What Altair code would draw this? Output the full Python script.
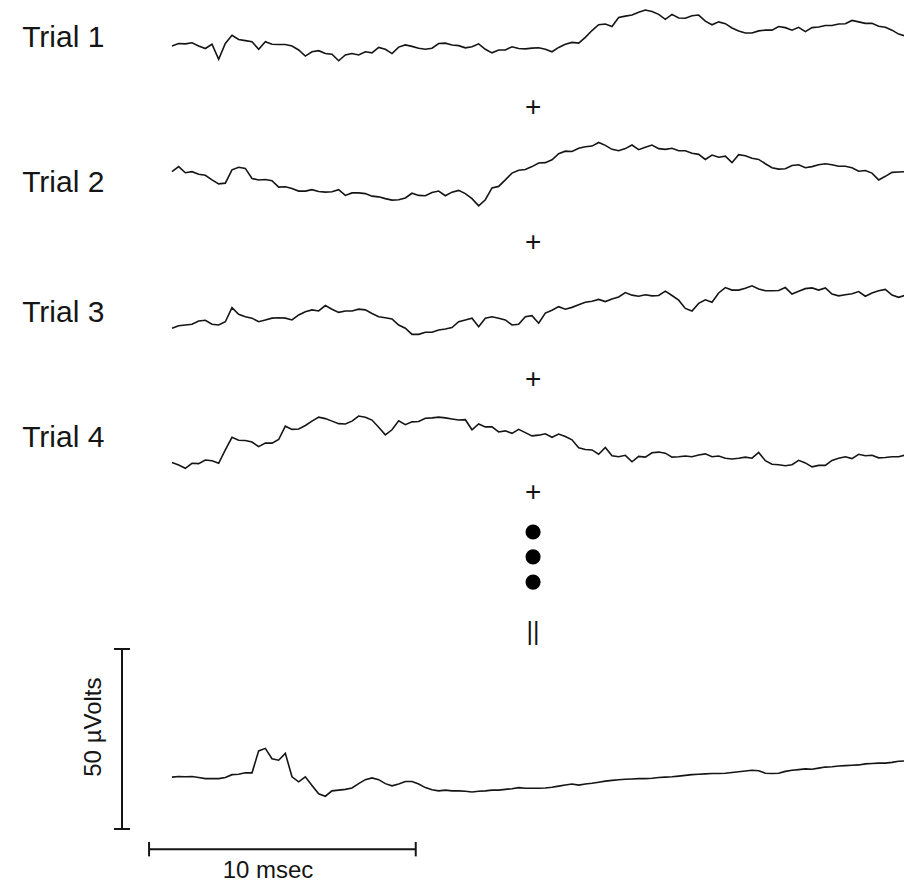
import altair as alt
import pandas as pd

# ---------------- data (µV relative to each trace's own baseline, one sample every 0.25 ms) -------------
STEP_MS = 0.25

trial_1 = [0.2, 0.9, 0.8, 1.1, 0.2, -0.5, 0.7, -3.5, 0.9, 3.2,
           2.0, 1.7, 1.4, -0.7, 1.4, 0.7, 0.6, 0.6, 0.2, -0.9,
           -2.6, -1.4, -1.1, -1.9, -2.1, -3.9, -2.3, -1.9, -2.3, -1.4,
           -1.7, -0.2, -0.7, -1.9, -0.1, 0.5, 0.1, -0.4, -0.7, -0.4,
           0.9, 1.0, 0.5, 0.3, -0.3, 0.0, 0.8, -0.7, -1.7, -0.9,
           -0.9, 0.0, -0.5, -0.6, -0.4,
           -0.3, -0.7, -1.4, -0.2, 0.7, 1.2, 1.0, 2.6, 4.5, 6.1,
           6.3, 5.6, 8.1, 8.5, 8.8, 9.6, 10.2, 9.8, 9.0, 7.6,
           9.0, 8.0, 7.9, 8.6, 8.8, 7.1, 6.1, 6.9, 6.4, 5.2,
           4.4, 3.8, 3.8, 4.4, 4.6, 4.6, 5.6, 5.3, 4.6, 5.4,
           4.2, 5.3, 5.5, 5.9, 5.9, 6.3, 6.4, 7.3, 6.9, 6.5,
           6.5, 5.7, 5.4, 4.6, 3.5, 3.0]

trial_2 = [2.3, 3.7, 2.0, 2.3, 1.6, 1.3, 0.0, -1.1, -0.9, 2.8,
           3.5, 3.2, 0.4, 0.0, 0.1, -0.2, -2.0, -1.9, -2.4, -3.1,
           -3.1, -2.7, -3.2, -3.4, -3.3, -2.7, -4.3, -3.6, -3.6, -3.8,
           -4.5, -4.7, -5.2, -5.6, -5.5, -5.0, -3.7, -4.3, -4.4, -3.5,
           -3.1, -4.4, -3.4, -2.9, -3.8, -5.2, -7.2, -5.5, -2.2, -1.8,
           0.0, 1.9, 2.7, 2.9, 3.7,
           4.7, 4.8, 5.6, 7.3, 8.0, 7.9, 8.8, 9.2, 9.4, 10.4,
           9.6, 8.5, 8.1, 8.7, 9.7, 8.4, 9.1, 9.7, 8.7, 8.5,
           8.8, 8.1, 8.1, 7.4, 7.1, 5.7, 6.9, 6.3, 6.6, 4.8,
           7.0, 6.7, 6.0, 5.7, 4.5, 3.4, 3.0, 3.1, 4.0, 4.2,
           3.4, 3.7, 4.2, 4.5, 4.2, 3.8, 3.8, 3.4, 2.4, 2.6,
           1.9, 0.0, 1.0, 2.1, 2.2, 2.3]

trial_3 = [-0.9, -0.2, 0.0, 0.2, 1.1, 1.3, 0.2, 0.0, 0.9, 4.8,
           3.0, 2.3, 1.9, 0.9, 1.4, 1.9, 2.0, 1.9, 1.4, 2.8,
           3.7, 4.2, 3.9, 5.4, 4.4, 3.5, 3.9, 3.9, 4.4, 4.2,
           3.2, 2.3, 2.0, 1.7, 0.0, -0.9, -2.6, -2.6, -2.0, -2.0,
           -1.4, -1.1, -0.7, 0.9, 1.4, 1.9, -0.5, 1.9, 2.3, 1.9,
           1.4, 0.0, 0.2, 2.3, 2.6,
           0.5, 3.3, 4.1, 5.1, 4.4, 4.9, 5.6, 6.3, 6.6, 7.1,
           6.5, 7.2, 7.8, 9.0, 8.3, 8.0, 8.4, 8.1, 8.2, 9.4,
           8.2, 6.9, 4.6, 3.9, 6.0, 7.0, 6.3, 8.9, 10.4, 9.7,
           9.7, 10.2, 10.9, 10.0, 9.5, 9.5, 9.6, 10.4, 8.6, 9.4,
           10.1, 10.3, 9.7, 10.3, 8.6, 8.1, 8.4, 8.7, 9.3, 8.0,
           8.9, 9.5, 9.9, 8.3, 7.7, 8.3]

trial_4 = [-3.5, -4.2, -5.1, -3.7, -3.8, -2.8, -3.0, -3.7, 0.0, 3.5,
           2.7, 2.6, 2.2, 0.9, 1.9, 1.9, 2.9, 6.6, 5.7, 5.8,
           6.8, 8.0, 9.1, 8.7, 8.0, 7.3, 7.2, 8.0, 9.4, 9.1,
           8.3, 6.3, 4.2, 5.6, 8.1, 7.0, 7.8, 7.9, 8.8, 8.9,
           9.1, 8.9, 8.6, 8.3, 8.4, 5.6, 7.2, 6.4, 6.4, 5.0,
           5.3, 4.6, 5.7, 4.8, 3.9,
           4.1, 4.5, 3.5, 4.4, 3.7, 2.8, 0.6, 0.1, 0.0, -1.2,
           0.7, -1.6, -1.9, -1.5, -3.3, -1.8, -2.0, -0.8, -0.6, -0.9,
           -2.0, -1.9, -1.7, -1.9, -1.4, -1.1, -1.9, -1.7, -2.3, -2.5,
           -2.3, -2.0, -2.3, -0.7, -3.0, -4.0, -4.1, -4.4, -4.1, -2.9,
           -3.6, -4.7, -4.3, -4.3, -2.9, -2.3, -1.9, -2.4, -1.2, -1.6,
           -1.5, -2.2, -2.1, -1.9, -1.9, -1.4]

average = [-0.1, 0.1, 0.0, 0.1, -0.2, -0.5, -0.5, -0.5, -0.2, 0.6,
           0.7, 1.1, 1.1, 7.2, 7.9, 5.0, 4.6, 6.5, 0.0, -1.4,
           0.0, -2.4, -4.7, -5.4, -3.9, -3.7, -3.5, -3.1, -1.9, -0.8,
           -0.3, -0.8, -1.9, -2.5, -2.0, -1.3, -1.3, -2.0, -3.0, -3.6,
           -3.9, -3.7, -3.9, -3.9, -4.0, -4.2, -4.0, -3.9, -3.7, -3.7,
           -3.5, -3.3, -3.0, -3.2, -3.2,
           -3.2, -3.1, -2.9, -2.6, -2.3, -2.0, -2.3, -2.0, -1.8, -1.5,
           -1.2, -1.0, -0.8, -0.7, -0.6, -0.5, -0.5, -0.4, -0.2, -0.1,
           0.0, 0.2, 0.4, 0.6, 0.7, 0.8, 0.9, 0.9, 1.0, 1.2,
           1.4, 1.6, 1.8, 1.7, 1.0, 0.9, 1.0, 1.5, 1.8, 2.0,
           2.2, 2.1, 2.4, 2.7, 2.8, 3.0, 3.1, 3.2, 3.3, 3.6,
           3.7, 3.8, 3.8, 4.0, 4.3, 4.4]

trace_names = ["Trial 1", "Trial 2", "Trial 3", "Trial 4", "Average"]
trace_values = [trial_1, trial_2, trial_3, trial_4, average]
trial_labels = ["Trial 1", "Trial 2", "Trial 3", "Trial 4"]

# ---------------- layout (in µV / ms units of the shared scales) ----------------
X_DOMAIN = [-6.45, 27.45]          # ms
Y_DOMAIN = [0, 245.28]             # µV stacked from the bottom of the figure
trace_offsets = [232.3, 195.3, 155.0, 120.3, 29.5]
label_levels = [232.2, 191.9, 155.8, 121.1]
label_time = -5.62
stack_time = 13.54
plus_levels = [215.3, 177.8, 139.7, 108.3]
dot_levels = [97.5, 90.6, 83.6]
equals_level = 69.7

VBAR_TIME, VBAR_FROM, VBAR_UV, VCAP_HALF = -1.875, 15.0, 50.0, 0.3
HBAR_LEVEL, HBAR_FROM, HBAR_MS, HCAP_HALF = 9.4, -0.86, 10.0, 2.0

FONT = "Liberation Sans"
INK = "#151515"

xs = alt.Scale(domain=X_DOMAIN, nice=False, zero=False)
ys = alt.Scale(domain=Y_DOMAIN, nice=False, zero=False)


def X(field):
    return alt.X(field, type="quantitative", scale=xs, axis=None)


def Y(field):
    return alt.Y(field, type="quantitative", scale=ys, axis=None)


rows = []
for name, vals, off in zip(trace_names, trace_values, trace_offsets):
    for i, v in enumerate(vals):
        rows.append({"trace": name, "t": i * STEP_MS, "uv": v, "level": off + v})
traces_df = pd.DataFrame(rows)

traces = alt.Chart(traces_df).mark_line(color=INK, strokeWidth=1.6).encode(
    x=X("t"), y=Y("level"), detail="trace:N"
)

labels_df = pd.DataFrame({"label": trial_labels, "t": [label_time] * 4, "level": label_levels})
labels = alt.Chart(labels_df).mark_text(
    align="left", baseline="alphabetic", fontSize=30, font=FONT, color=INK
).encode(x=X("t"), y=Y("level"), text="label:N")

plus_df = pd.DataFrame({"t": [stack_time] * 4, "level": plus_levels})
plus = alt.Chart(plus_df).mark_text(
    text="+", align="center", baseline="middle", fontSize=28, font=FONT, color=INK
).encode(x=X("t"), y=Y("level"))

dots_df = pd.DataFrame({"t": [stack_time] * 3, "level": dot_levels})
dots = alt.Chart(dots_df).mark_point(
    shape="circle", filled=True, size=230, color="black", opacity=1
).encode(x=X("t"), y=Y("level"))

eq_df = pd.DataFrame({"t": [stack_time], "level": [equals_level]})
equals = alt.Chart(eq_df).mark_text(
    text="||", align="center", baseline="middle", fontSize=25, font=FONT, color=INK
).encode(x=X("t"), y=Y("level"))

# vertical scale bar: 50 µV
vbar_df = pd.DataFrame({"t": [VBAR_TIME], "a": [VBAR_FROM], "b": [VBAR_FROM + VBAR_UV]})
vbar = alt.Chart(vbar_df).mark_rule(color=INK, strokeWidth=2).encode(
    x=X("t"), y=Y("a"), y2="b"
)
vcap_df = pd.DataFrame({"t1": [VBAR_TIME - VCAP_HALF] * 2, "t2": [VBAR_TIME + VCAP_HALF] * 2,
                        "level": [VBAR_FROM, VBAR_FROM + VBAR_UV]})
vcaps = alt.Chart(vcap_df).mark_rule(color=INK, strokeWidth=2).encode(
    x=X("t1"), x2="t2", y=Y("level")
)

# horizontal scale bar: 10 ms
hbar_df = pd.DataFrame({"a": [HBAR_FROM], "b": [HBAR_FROM + HBAR_MS], "level": [HBAR_LEVEL]})
hbar = alt.Chart(hbar_df).mark_rule(color=INK, strokeWidth=2).encode(
    x=X("a"), x2="b", y=Y("level")
)
hcap_df = pd.DataFrame({"t": [HBAR_FROM, HBAR_FROM + HBAR_MS],
                        "l1": [HBAR_LEVEL - HCAP_HALF] * 2, "l2": [HBAR_LEVEL + HCAP_HALF] * 2})
hcaps = alt.Chart(hcap_df).mark_rule(color=INK, strokeWidth=2).encode(
    x=X("t"), y=Y("l1"), y2="l2"
)

vlab_df = pd.DataFrame({"txt": ["50 µVolts"], "t": [-2.92], "level": [43.3]})
vlab = alt.Chart(vlab_df).mark_text(
    angle=270, align="center", baseline="middle", fontSize=24, font=FONT, color=INK
).encode(x=X("t"), y=Y("level"), text="txt:N")

hlab_df = pd.DataFrame({"txt": ["10 msec"], "t": [3.6], "level": [1.4]})
hlab = alt.Chart(hlab_df).mark_text(
    align="center", baseline="alphabetic", fontSize=24, font=FONT, color=INK
).encode(x=X("t"), y=Y("level"), text="txt:N")

chart = alt.layer(
    traces, labels, plus, dots, equals, vbar, vcaps, hbar, hcaps, vlab, hlab
).properties(
    width=904, height=883, autosize=alt.AutoSizeParams(type="none"), padding=0,
    background="white"
).configure_view(stroke=None)

chart.save("out.html", embed_options={"renderer": "svg", "actions": False})
